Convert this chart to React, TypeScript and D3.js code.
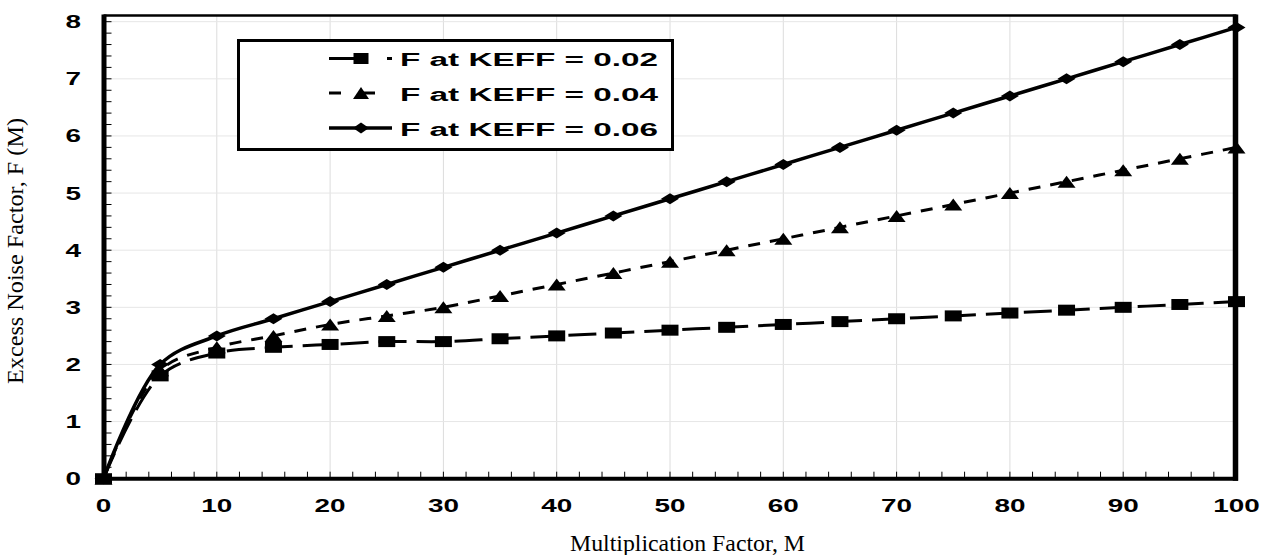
import React from "react";
import * as d3 from "d3";

const mValues = [0, 5, 10, 15, 20, 25, 30, 35, 40, 45, 50, 55, 60, 65, 70, 75, 80, 85, 90, 95, 100];
const fKeff002 = [0, 1.8, 2.2, 2.3, 2.35, 2.4, 2.4, 2.45, 2.5, 2.55, 2.6, 2.65, 2.7, 2.75, 2.8, 2.85, 2.9, 2.95, 3.0, 3.05, 3.1];
const fKeff004 = [0, 1.9, 2.3, 2.5, 2.7, 2.85, 3.0, 3.2, 3.4, 3.6, 3.8, 4.0, 4.2, 4.4, 4.6, 4.8, 5.0, 5.2, 5.4, 5.6, 5.8];
const fKeff006 = [0, 2.0, 2.5, 2.8, 3.1, 3.4, 3.7, 4.0, 4.3, 4.6, 4.9, 5.2, 5.5, 5.8, 6.1, 6.4, 6.7, 7.0, 7.3, 7.6, 7.9];
const seriesLabels = ["F at KEFF = 0.02", "F at KEFF = 0.04", "F at KEFF = 0.06"];
const xTicks = [0, 10, 20, 30, 40, 50, 60, 70, 80, 90, 100];
const yTicks = [0, 1, 2, 3, 4, 5, 6, 7, 8];
const xTitle = "Multiplication Factor, M";
const yTitle = "Excess Noise Factor, F (M)";

const W = 1264;
const H = 555;
const LEFT = 103.5;
const RIGHT = 1236.5;
const BOTTOM = 478.7;
const TOP8 = 21.7;
const FRAME_TOP = 15.5;

const x = d3.scaleLinear().domain([0, 100]).range([LEFT, RIGHT]);
const y = d3.scaleLinear().domain([0, 8]).range([BOTTOM, TOP8]);

type Marker = "square" | "triangle" | "diamond";

function markerPath(kind: Marker, cx: number, cy: number, w: number, h: number) {
  if (kind === "square") {
    return `M${cx - w / 2},${cy - h / 2}h${w}v${h}h${-w}Z`;
  }
  if (kind === "triangle") {
    return `M${cx},${cy - h / 2}L${cx + w / 2},${cy + h / 2}L${cx - w / 2},${cy + h / 2}Z`;
  }
  return `M${cx},${cy - h / 2}L${cx + w / 2},${cy}L${cx},${cy + h / 2}L${cx - w / 2},${cy}Z`;
}

const seriesList = [
  { values: fKeff002, marker: "square" as Marker, dash: "28,10", width: 3, mw: 17, mh: 11, legDash: "30,28" },
  { values: fKeff004, marker: "triangle" as Marker, dash: "12,10", width: 3, mw: 18, mh: 12, legDash: "12,22" },
  { values: fKeff006, marker: "diamond" as Marker, dash: "none", width: 3.5, mw: 18, mh: 11, legDash: "none" },
];

const line = d3
  .line<number>()
  .x((_, i) => x(mValues[i]))
  .y((d) => y(d))
  .curve(d3.curveCatmullRom.alpha(0.5));

export default function App() {
  const minorX = d3.range(0, 100.001, 2);
  const minorY = d3.range(0, 8.001, 0.2);
  const legendRows = [59.5, 94, 129];
  const tickFont = "'Liberation Sans', Arial, sans-serif";
  const serif = "'Liberation Serif', 'Times New Roman', serif";
  return (
    <svg width={W} height={H} style={{ position: "absolute", left: 0, top: 0, background: "#fff" }}>
      <rect x={0} y={0} width={W} height={H} fill="#fff" />
      {/* gridlines */}
      {xTicks.map((t) => (
        <line key={"gx" + t} x1={x(t)} x2={x(t)} y1={FRAME_TOP} y2={BOTTOM} stroke="#dcdcdc" strokeWidth={1} />
      ))}
      {yTicks.map((t) => (
        <line key={"gy" + t} x1={LEFT} x2={RIGHT} y1={y(t)} y2={y(t)} stroke="#e6e6e6" strokeWidth={1} />
      ))}
      {/* minor ticks */}
      {minorX.map((t) => (
        <line key={"mx" + t} x1={x(t)} x2={x(t)} y1={BOTTOM} y2={BOTTOM - 7} stroke="#000" strokeWidth={1} />
      ))}
      {minorY.map((t) => (
        <line key={"my" + t.toFixed(1)} x1={LEFT} x2={LEFT + 8} y1={y(t)} y2={y(t)} stroke="#000" strokeWidth={1} />
      ))}
      {/* series lines */}
      {seriesList.map((s, i) => (
        <path
          key={"l" + i}
          d={line(s.values) || ""}
          fill="none"
          stroke="#000"
          strokeWidth={s.width}
          strokeDasharray={s.dash}
        />
      ))}
      {/* frame */}
      <line x1={LEFT} x2={RIGHT} y1={FRAME_TOP} y2={FRAME_TOP} stroke="#000" strokeWidth={2.5} />
      <line x1={RIGHT - 1} x2={RIGHT - 1} y1={FRAME_TOP - 1} y2={BOTTOM + 2} stroke="#000" strokeWidth={5.5} />
      <line x1={LEFT + 0.5} x2={LEFT + 0.5} y1={FRAME_TOP - 1} y2={BOTTOM + 2} stroke="#000" strokeWidth={5} />
      <line x1={LEFT - 2} x2={RIGHT + 1.5} y1={BOTTOM} y2={BOTTOM} stroke="#000" strokeWidth={4} />
      {/* markers */}
      {seriesList.map((s, i) =>
        s.values.map((v, j) => (
          <path key={"m" + i + "-" + j} d={markerPath(s.marker, x(mValues[j]), y(v), s.mw, s.mh)} fill="#000" />
        ))
      )}
      {/* tick labels */}
      {xTicks.map((t) => (
        <text
          key={"tx" + t}
          x={x(t)}
          y={512}
          textAnchor="middle"
          fontFamily={tickFont}
          fontWeight="bold"
          fontSize={18}
          textLength={String(t).length * 15.5}
          lengthAdjust="spacingAndGlyphs"
        >
          {t}
        </text>
      ))}
      {yTicks.map((t) => (
        <text
          key={"ty" + t}
          x={81}
          y={y(t) + 6.5}
          textAnchor="end"
          fontFamily={tickFont}
          fontWeight="bold"
          fontSize={18}
          textLength={15.5}
          lengthAdjust="spacingAndGlyphs"
        >
          {t}
        </text>
      ))}
      {/* axis titles */}
      <text x={570} y={551} fontFamily={serif} fontSize={24} textLength={235} lengthAdjust="spacingAndGlyphs">
        {xTitle}
      </text>
      <text
        transform={`translate(23,${251}) rotate(-90)`}
        textAnchor="middle"
        fontFamily={serif}
        fontSize={24}
        textLength={266}
        lengthAdjust="spacingAndGlyphs"
      >
        {yTitle}
      </text>
      {/* legend */}
      <rect x={238.5} y={40.5} width={434} height={109} fill="#fff" stroke="#000" strokeWidth={3} />
      {seriesList.map((s, i) => (
        <g key={"lg" + i}>
          <line
            x1={329}
            x2={392}
            y1={legendRows[i] - 1}
            y2={legendRows[i] - 1}
            stroke="#000"
            strokeWidth={s.width}
            strokeDasharray={s.legDash}
          />
          <path d={markerPath(s.marker, 361, legendRows[i] - 1, s.mw - 2, s.mh)} fill="#000" />
          <text
            x={400}
            y={legendRows[i] + 6.5}
            fontFamily={tickFont}
            fontWeight="bold"
            fontSize={18}
            textLength={258}
            lengthAdjust="spacingAndGlyphs"
          >
            {seriesLabels[i]}
          </text>
        </g>
      ))}
      {i0Dot()}
    </svg>
  );
}

function i0Dot() {
  return null;
}
